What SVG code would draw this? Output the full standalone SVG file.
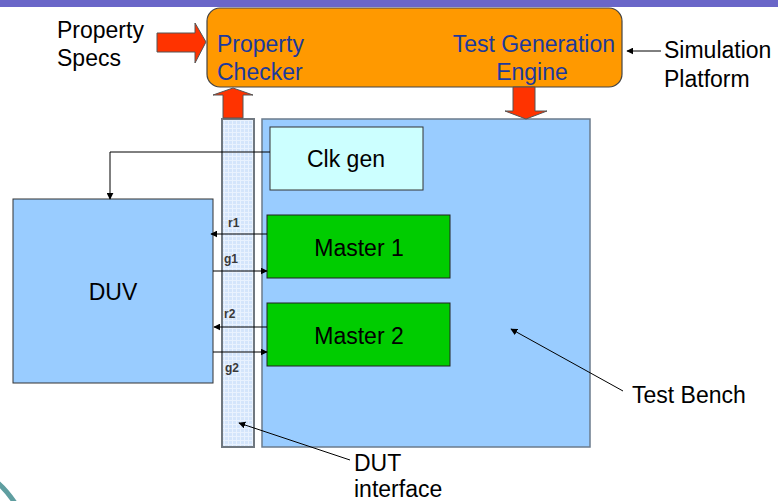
<svg xmlns="http://www.w3.org/2000/svg" width="778" height="501" viewBox="0 0 778 501">
<style>
.t{font-family:"Liberation Sans",Arial,sans-serif;font-size:23px;fill:#000}
.b{font-family:"Liberation Sans",Arial,sans-serif;font-size:23px;fill:#1c3a9c}
.s{font-family:"Liberation Sans",Arial,sans-serif;font-size:12px;font-weight:bold;fill:#3a3a3a}
.ln{stroke:#000;stroke-width:1;fill:none}
.red{fill:#ff3300;stroke:#555;stroke-width:1}
</style>
<defs>
<marker id="ah" viewBox="0 0 10 10" refX="9" refY="5" markerWidth="7" markerHeight="7" orient="auto" markerUnits="userSpaceOnUse">
<path d="M0 0 L10 5 L0 10 z" fill="#000"/>
</marker>
<pattern id="grid" width="4" height="4" patternUnits="userSpaceOnUse">
<rect width="4" height="4" fill="#d4e5fb"/>
<path d="M0 0.5 H4 M0.5 0 V4" stroke="#e9f2fe" stroke-width="1"/>
</pattern>
</defs>
<rect x="0" y="0" width="778" height="7" fill="#6a66c8"/>
<path d="M-2 483 Q7 491 15 503" stroke="#5f9ea0" stroke-width="5" fill="none"/>

<g id="testbench">
<rect x="262" y="119" width="328" height="328" fill="#99ccff" stroke="#6b7b8c" stroke-width="1.5"/>
</g>
<g id="interface">
<rect x="222" y="119" width="32" height="328" fill="url(#grid)" stroke="#707880" stroke-width="2"/>
</g>
<g id="engine">
<rect x="207" y="8" width="415" height="79" rx="13" fill="#ff9900" stroke="#444" stroke-width="1.2"/>
<text class="b" x="217" y="52">Property</text>
<text class="b" x="217" y="80">Checker</text>
<text class="b" x="615" y="52" text-anchor="end">Test Generation</text>
<text class="b" x="532" y="80" text-anchor="middle">Engine</text>
</g>
<g id="clkgen">
<rect x="270" y="127" width="153" height="63" fill="#ccffff" stroke="#333" stroke-width="1"/>
<text class="t" x="346" y="167" text-anchor="middle">Clk gen</text>
</g>
<g id="master1">
<rect x="267" y="215" width="183" height="63" fill="#00cc00" stroke="#222" stroke-width="1"/>
<text class="t" x="359" y="256" text-anchor="middle">Master 1</text>
</g>
<g id="master2">
<rect x="267" y="303" width="183" height="63" fill="#00cc00" stroke="#222" stroke-width="1"/>
<text class="t" x="359" y="344" text-anchor="middle">Master 2</text>
</g>
<g id="duv">
<rect x="13" y="199" width="200" height="184" fill="#99ccff" stroke="#333" stroke-width="1"/>
<text class="t" x="113" y="300" text-anchor="middle">DUV</text>
</g>
<g id="labels">
<text class="t" x="57" y="38">Property</text>
<text class="t" x="57" y="66">Specs</text>
<text class="t" x="664" y="58">Simulation</text>
<text class="t" x="664" y="87">Platform</text>
<text class="t" x="632" y="403">Test Bench</text>
<text class="t" x="354" y="471">DUT</text>
<text class="t" x="354" y="497">interface</text>
<text class="s" x="228" y="227">r1</text>
<text class="s" x="224" y="263">g1</text>
<text class="s" x="224" y="318">r2</text>
<text class="s" x="225" y="372">g2</text>
</g>
<g id="connectors">
<path class="red" d="M157 33 H195 V23 L206 42 L195 63 V52 H157 Z"/>
<path class="red" d="M223 118 V95 H213 L233 88 L253 95 H243 V118 Z"/>
<path class="red" d="M513 87 V111 H505 L526 119 L547 111 H535 V87 Z"/>
<path class="ln" d="M661 51 H627" marker-end="url(#ah)"/>
<path class="ln" d="M270 152 H110 V199" marker-end="url(#ah)"/>
<path class="ln" d="M267 234 H211" marker-end="url(#ah)"/>
<path class="ln" d="M213 271 H267" marker-end="url(#ah)"/>
<path class="ln" d="M267 327 H214" marker-end="url(#ah)"/>
<path class="ln" d="M213 352 H267" marker-end="url(#ah)"/>
<path class="ln" d="M350 460 L239 423" marker-end="url(#ah)"/>
<path class="ln" d="M623 391 L511 329" marker-end="url(#ah)"/>
</g>
</svg>
